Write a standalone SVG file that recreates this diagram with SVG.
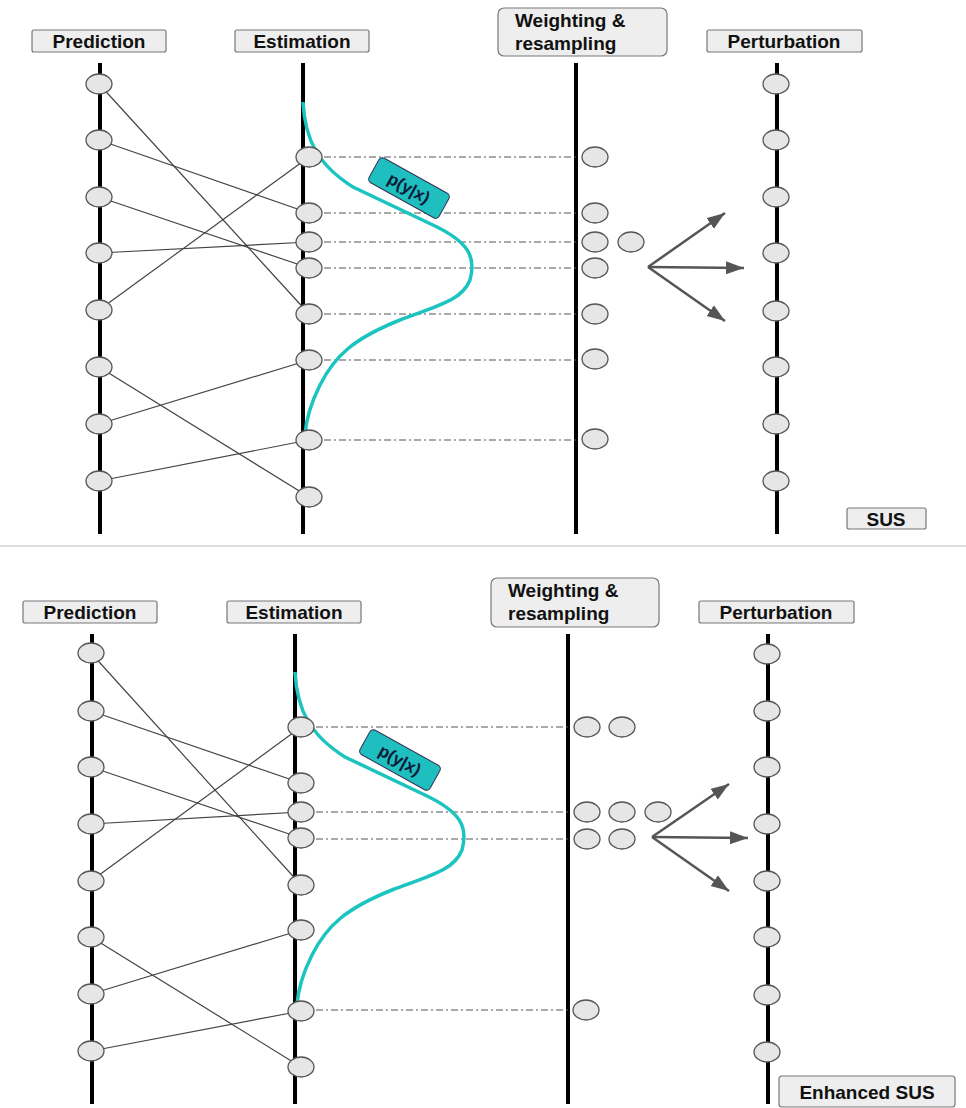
<svg xmlns="http://www.w3.org/2000/svg" width="966" height="1108" viewBox="0 0 966 1108">
<style>
.axis{stroke:#000;stroke-width:4;fill:none}
.node{fill:#e6e6e6;stroke:#555;stroke-width:1.3}
.link{stroke:#444;stroke-width:1.2;fill:none}
.dd{stroke:#555;stroke-width:1.2;stroke-dasharray:7 3 2 3;fill:none}
.pdf{stroke:#1cc4c0;stroke-width:3.5;fill:none}
.box{fill:#eeeeee;stroke:#777;stroke-width:1.2}
.lbl{font-family:"Liberation Sans",Arial,sans-serif;font-weight:bold;font-size:19px;fill:#111}
.tag{fill:#1fbfbf;stroke:#335;stroke-width:1}
.tagt{font-family:"Liberation Sans",Arial,sans-serif;font-weight:bold;font-size:17px;fill:#0d1a3a}
.arr{stroke:#555;stroke-width:2.5;fill:none;marker-end:url(#ah)}
</style>
<defs>
<marker id="ah" markerUnits="userSpaceOnUse" markerWidth="20" markerHeight="14" refX="18" refY="6.5" orient="auto">
<path d="M0,0 L18,6.5 L0,13 Z" fill="#555"/>
</marker>
</defs>
<rect width="966" height="1108" fill="#fff"/>
<line x1="0" y1="546" x2="966" y2="546" stroke="#ddd" stroke-width="2"/>

<!-- ===== TOP PANEL: SUS ===== -->
<g id="axes-top">
<line class="axis" x1="100" y1="63" x2="100" y2="534"/>
<line class="axis" x1="303" y1="63" x2="303" y2="534"/>
<line class="axis" x1="576" y1="63" x2="576" y2="534"/>
<line class="axis" x1="777" y1="63" x2="777" y2="534"/>
</g>
<g id="connectors-top">
<line class="link" x1="99" y1="84" x2="309" y2="314"/>
<line class="link" x1="99" y1="140" x2="309" y2="213"/>
<line class="link" x1="99" y1="197" x2="309" y2="268"/>
<line class="link" x1="99" y1="253" x2="309" y2="242"/>
<line class="link" x1="99" y1="310" x2="309" y2="157"/>
<line class="link" x1="99" y1="367" x2="309" y2="497"/>
<line class="link" x1="99" y1="424" x2="309" y2="360"/>
<line class="link" x1="99" y1="481" x2="309" y2="440"/>
<line class="dd" x1="309" y1="157" x2="576" y2="157"/>
<line class="dd" x1="309" y1="213" x2="576" y2="213"/>
<line class="dd" x1="309" y1="242" x2="576" y2="242"/>
<line class="dd" x1="309" y1="268" x2="576" y2="268"/>
<line class="dd" x1="309" y1="314" x2="576" y2="314"/>
<line class="dd" x1="309" y1="360" x2="576" y2="360"/>
<line class="dd" x1="309" y1="440" x2="576" y2="440"/>
<line class="arr" x1="648" y1="267" x2="725" y2="213"/>
<line class="arr" x1="648" y1="267" x2="744" y2="268"/>
<line class="arr" x1="648" y1="267" x2="725" y2="321"/>
</g>
<g id="pdf-top">
<path class="pdf" d="M303,102 C305,140 318,165 353,187 L435,226 C470,243 476,258 470,280 C462,300 440,305 400,320 C355,338 335,355 320,385 C310,405 306,420 305,435"/>
</g>
<g id="pnodes-top">
<g id="tp1"><ellipse class="node" cx="99" cy="84" rx="13" ry="10"/></g>
<g id="tp2"><ellipse class="node" cx="99" cy="140" rx="13" ry="10"/></g>
<g id="tp3"><ellipse class="node" cx="99" cy="197" rx="13" ry="10"/></g>
<g id="tp4"><ellipse class="node" cx="99" cy="253" rx="13" ry="10"/></g>
<g id="tp5"><ellipse class="node" cx="99" cy="310" rx="13" ry="10"/></g>
<g id="tp6"><ellipse class="node" cx="99" cy="367" rx="13" ry="10"/></g>
<g id="tp7"><ellipse class="node" cx="99" cy="424" rx="13" ry="10"/></g>
<g id="tp8"><ellipse class="node" cx="99" cy="481" rx="13" ry="10"/></g>
</g>
<g id="enodes-top">
<g id="te1"><ellipse class="node" cx="309" cy="157" rx="13" ry="10"/></g>
<g id="te2"><ellipse class="node" cx="309" cy="213" rx="13" ry="10"/></g>
<g id="te3"><ellipse class="node" cx="309" cy="242" rx="13" ry="10"/></g>
<g id="te4"><ellipse class="node" cx="309" cy="268" rx="13" ry="10"/></g>
<g id="te5"><ellipse class="node" cx="309" cy="314" rx="13" ry="10"/></g>
<g id="te6"><ellipse class="node" cx="309" cy="360" rx="13" ry="10"/></g>
<g id="te7"><ellipse class="node" cx="309" cy="440" rx="13" ry="10"/></g>
<g id="te8"><ellipse class="node" cx="309" cy="497" rx="13" ry="10"/></g>
</g>
<g id="wnodes-top">
<g id="tw1"><ellipse class="node" cx="595" cy="157" rx="13" ry="10"/></g>
<g id="tw2"><ellipse class="node" cx="595" cy="213" rx="13" ry="10"/></g>
<g id="tw3"><ellipse class="node" cx="595" cy="242" rx="13" ry="10"/></g>
<g id="tw3b"><ellipse class="node" cx="631" cy="242" rx="13" ry="10"/></g>
<g id="tw4"><ellipse class="node" cx="595" cy="268" rx="13" ry="10"/></g>
<g id="tw5"><ellipse class="node" cx="595" cy="314" rx="13" ry="10"/></g>
<g id="tw6"><ellipse class="node" cx="595" cy="359" rx="13" ry="10"/></g>
<g id="tw7"><ellipse class="node" cx="595" cy="439" rx="13" ry="10"/></g>
</g>
<g id="qnodes-top">
<g id="tq1"><ellipse class="node" cx="776" cy="84" rx="13" ry="10"/></g>
<g id="tq2"><ellipse class="node" cx="776" cy="140" rx="13" ry="10"/></g>
<g id="tq3"><ellipse class="node" cx="776" cy="197" rx="13" ry="10"/></g>
<g id="tq4"><ellipse class="node" cx="776" cy="253" rx="13" ry="10"/></g>
<g id="tq5"><ellipse class="node" cx="776" cy="311" rx="13" ry="10"/></g>
<g id="tq6"><ellipse class="node" cx="776" cy="367" rx="13" ry="10"/></g>
<g id="tq7"><ellipse class="node" cx="776" cy="424" rx="13" ry="10"/></g>
<g id="tq8"><ellipse class="node" cx="776" cy="481" rx="13" ry="10"/></g>
</g>
<g id="tag-top" transform="translate(409,188) rotate(29)">
<rect class="tag" x="-40" y="-14" width="80" height="28" rx="4"/>
<text class="tagt" x="0" y="6" text-anchor="middle">p(y|x)</text>
</g>
<g id="lbl-pred-top"><rect class="box" x="32" y="30" width="134" height="22" rx="2"/><text class="lbl" x="99" y="48" text-anchor="middle">Prediction</text></g>
<g id="lbl-est-top"><rect class="box" x="235" y="30" width="134" height="22" rx="2"/><text class="lbl" x="302" y="48" text-anchor="middle">Estimation</text></g>
<g id="lbl-wr-top"><rect class="box" x="498" y="8" width="169" height="48" rx="6"/><text class="lbl" x="515" y="27">Weighting &amp;</text><text class="lbl" x="515" y="50">resampling</text></g>
<g id="lbl-pert-top"><rect class="box" x="707" y="30" width="155" height="22" rx="2"/><text class="lbl" x="784" y="48" text-anchor="middle">Perturbation</text></g>
<g id="lbl-sus"><rect class="box" x="847" y="508" width="79" height="21" rx="2"/><text class="lbl" x="886" y="526" text-anchor="middle">SUS</text></g>

<!-- ===== BOTTOM PANEL: Enhanced SUS ===== -->
<g id="axes-bot">
<line class="axis" x1="92" y1="634" x2="92" y2="1104"/>
<line class="axis" x1="295" y1="634" x2="295" y2="1104"/>
<line class="axis" x1="568" y1="634" x2="568" y2="1104"/>
<line class="axis" x1="768" y1="634" x2="768" y2="1104"/>
</g>
<g id="connectors-bot">
<line class="link" x1="91" y1="653" x2="301" y2="885"/>
<line class="link" x1="91" y1="711" x2="301" y2="783"/>
<line class="link" x1="91" y1="767" x2="301" y2="838"/>
<line class="link" x1="91" y1="824" x2="301" y2="812"/>
<line class="link" x1="91" y1="881" x2="301" y2="727"/>
<line class="link" x1="91" y1="937" x2="301" y2="1067"/>
<line class="link" x1="91" y1="994" x2="301" y2="930"/>
<line class="link" x1="91" y1="1051" x2="301" y2="1011"/>
<line class="dd" x1="301" y1="727" x2="568" y2="727"/>
<line class="dd" x1="301" y1="812" x2="568" y2="812"/>
<line class="dd" x1="301" y1="839" x2="568" y2="839"/>
<line class="dd" x1="301" y1="1010" x2="568" y2="1010"/>
<line class="arr" x1="652" y1="837" x2="729" y2="784"/>
<line class="arr" x1="652" y1="837" x2="748" y2="838"/>
<line class="arr" x1="652" y1="837" x2="729" y2="891"/>
</g>
<g id="pdf-bot" transform="translate(-8,570)">
<path class="pdf" d="M303,102 C305,140 318,165 353,187 L435,226 C470,243 476,258 470,280 C462,300 440,305 400,320 C355,338 335,355 320,385 C310,405 306,420 305,435"/>
</g>
<g id="pnodes-bot">
<g id="bp1"><ellipse class="node" cx="91" cy="653" rx="13" ry="10"/></g>
<g id="bp2"><ellipse class="node" cx="91" cy="711" rx="13" ry="10"/></g>
<g id="bp3"><ellipse class="node" cx="91" cy="767" rx="13" ry="10"/></g>
<g id="bp4"><ellipse class="node" cx="91" cy="824" rx="13" ry="10"/></g>
<g id="bp5"><ellipse class="node" cx="91" cy="881" rx="13" ry="10"/></g>
<g id="bp6"><ellipse class="node" cx="91" cy="937" rx="13" ry="10"/></g>
<g id="bp7"><ellipse class="node" cx="91" cy="994" rx="13" ry="10"/></g>
<g id="bp8"><ellipse class="node" cx="91" cy="1051" rx="13" ry="10"/></g>
</g>
<g id="enodes-bot">
<g id="be1"><ellipse class="node" cx="301" cy="727" rx="13" ry="10"/></g>
<g id="be2"><ellipse class="node" cx="301" cy="783" rx="13" ry="10"/></g>
<g id="be3"><ellipse class="node" cx="301" cy="812" rx="13" ry="10"/></g>
<g id="be4"><ellipse class="node" cx="301" cy="838" rx="13" ry="10"/></g>
<g id="be5"><ellipse class="node" cx="301" cy="885" rx="13" ry="10"/></g>
<g id="be6"><ellipse class="node" cx="301" cy="930" rx="13" ry="10"/></g>
<g id="be7"><ellipse class="node" cx="301" cy="1011" rx="13" ry="10"/></g>
<g id="be8"><ellipse class="node" cx="301" cy="1067" rx="13" ry="10"/></g>
</g>
<g id="wnodes-bot">
<g id="bw1"><ellipse class="node" cx="587" cy="727" rx="13" ry="10"/></g>
<g id="bw1b"><ellipse class="node" cx="622" cy="727" rx="13" ry="10"/></g>
<g id="bw2"><ellipse class="node" cx="587" cy="812" rx="13" ry="10"/></g>
<g id="bw2b"><ellipse class="node" cx="622" cy="812" rx="13" ry="10"/></g>
<g id="bw2c"><ellipse class="node" cx="658" cy="812" rx="13" ry="10"/></g>
<g id="bw3"><ellipse class="node" cx="587" cy="839" rx="13" ry="10"/></g>
<g id="bw3b"><ellipse class="node" cx="622" cy="839" rx="13" ry="10"/></g>
<g id="bw4"><ellipse class="node" cx="586" cy="1010" rx="13" ry="10"/></g>
</g>
<g id="qnodes-bot">
<g id="bq1"><ellipse class="node" cx="767" cy="654" rx="13" ry="10"/></g>
<g id="bq2"><ellipse class="node" cx="767" cy="711" rx="13" ry="10"/></g>
<g id="bq3"><ellipse class="node" cx="767" cy="767" rx="13" ry="10"/></g>
<g id="bq4"><ellipse class="node" cx="767" cy="824" rx="13" ry="10"/></g>
<g id="bq5"><ellipse class="node" cx="767" cy="881" rx="13" ry="10"/></g>
<g id="bq6"><ellipse class="node" cx="767" cy="937" rx="13" ry="10"/></g>
<g id="bq7"><ellipse class="node" cx="767" cy="995" rx="13" ry="10"/></g>
<g id="bq8"><ellipse class="node" cx="767" cy="1052" rx="13" ry="10"/></g>
</g>
<g id="tag-bot" transform="translate(400,760) rotate(29)">
<rect class="tag" x="-40" y="-14" width="80" height="28" rx="4"/>
<text class="tagt" x="0" y="6" text-anchor="middle">p(y|x)</text>
</g>
<g id="lbl-pred-bot"><rect class="box" x="23" y="601" width="134" height="22" rx="2"/><text class="lbl" x="90" y="619" text-anchor="middle">Prediction</text></g>
<g id="lbl-est-bot"><rect class="box" x="227" y="601" width="134" height="22" rx="2"/><text class="lbl" x="294" y="619" text-anchor="middle">Estimation</text></g>
<g id="lbl-wr-bot"><rect class="box" x="491" y="578" width="168" height="49" rx="6"/><text class="lbl" x="508" y="597">Weighting &amp;</text><text class="lbl" x="508" y="620">resampling</text></g>
<g id="lbl-pert-bot"><rect class="box" x="699" y="601" width="155" height="22" rx="2"/><text class="lbl" x="776" y="619" text-anchor="middle">Perturbation</text></g>
<g id="lbl-esus"><rect class="box" x="779" y="1076" width="176" height="31" rx="3"/><text class="lbl" x="867" y="1099" text-anchor="middle">Enhanced SUS</text></g>
</svg>
